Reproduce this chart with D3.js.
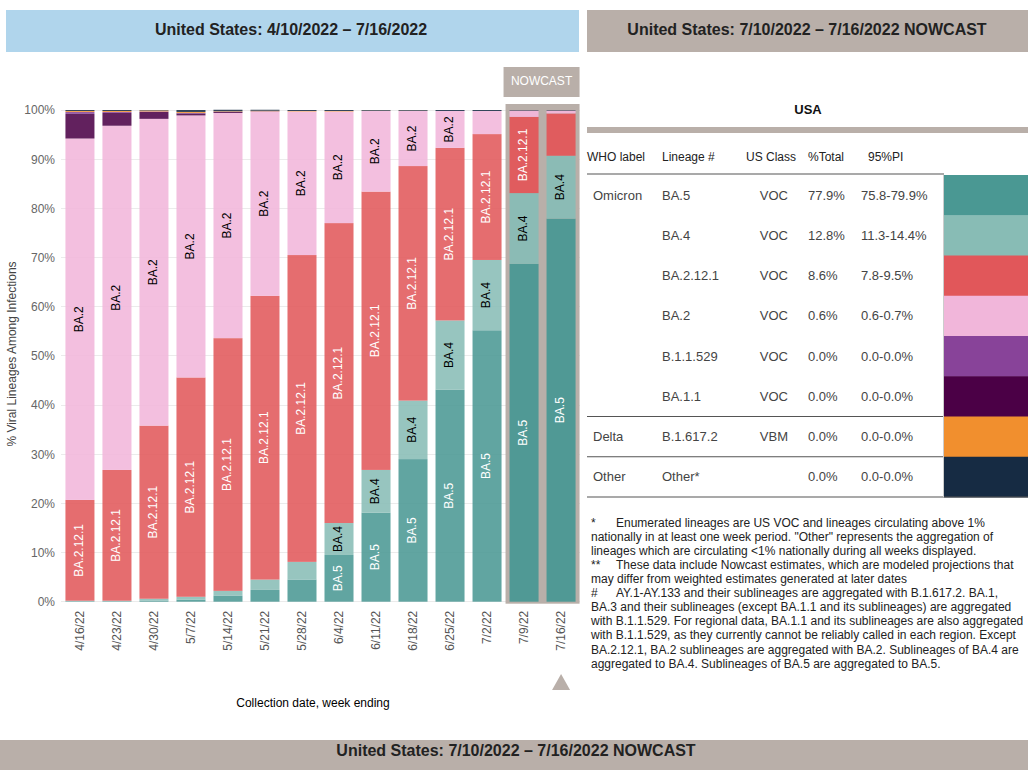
<!DOCTYPE html>
<html>
<head>
<meta charset="utf-8">
<script src="https://cdn.jsdelivr.net/npm/d3@7"></script>
<style>
  body { margin: 0; background: #fff; }
  svg { font-family: "Liberation Sans", Arial, sans-serif; display: block; }
</style>
</head>
<body>
<div id="chart"></div>
<script>
// weeks shown on the x axis
const dates = ['4/16/22', '4/23/22', '4/30/22', '5/7/22', '5/14/22', '5/21/22', '5/28/22',
  '6/4/22', '6/11/22', '6/18/22', '6/25/22', '7/2/22', '7/9/22', '7/16/22'];
const nowcastDates = ['7/9/22', '7/16/22'];

// % share per lineage, one value per week
const ba5    = [0.1, 0.1, 0.2, 0.4, 1.2, 2.4, 4.5, 9.5, 18.1, 29.0, 43.1, 55.2, 68.7, 77.9];
const ba4    = [0.1, 0.1, 0.4, 0.6, 1.0, 2.1, 3.6, 6.5, 8.7, 11.9, 14.1, 14.3, 14.4, 12.8];
const ba2121 = [20.5, 26.6, 35.2, 44.6, 51.4, 57.7, 62.4, 61.0, 56.6, 47.7, 35.1, 25.6, 15.5, 8.6];
const ba2    = [73.5, 70.0, 62.4, 53.3, 45.8, 37.5, 29.2, 22.7, 16.4, 11.2, 7.5, 4.7, 1.3, 0.6];
const ba11   = [5.0, 2.6, 1.4, 0.4, 0.2, 0.05, 0, 0, 0, 0, 0, 0, 0, 0];
const b11529 = [0.4, 0.2, 0.1, 0.1, 0.05, 0, 0, 0, 0, 0, 0, 0, 0, 0];
const delta  = [0.2, 0.2, 0.2, 0.2, 0.1, 0.1, 0.1, 0.1, 0.05, 0.05, 0, 0, 0, 0];
const other  = [0.2, 0.2, 0.1, 0.4, 0.3, 0.2, 0.2, 0.2, 0.15, 0.15, 0.2, 0.2, 0.1, 0.1];

const yTicks = [0, 10, 20, 30, 40, 50, 60, 70, 80, 90, 100];

// nowcast table
const whoLabel = ['Omicron', '', '', '', '', '', 'Delta', 'Other'];
const lineage  = ['BA.5', 'BA.4', 'BA.2.12.1', 'BA.2', 'B.1.1.529', 'BA.1.1', 'B.1.617.2', 'Other*'];
const usClass  = ['VOC', 'VOC', 'VOC', 'VOC', 'VOC', 'VOC', 'VBM', ''];
const pctTotal = ['77.9%', '12.8%', '8.6%', '0.6%', '0.0%', '0.0%', '0.0%', '0.0%'];
const pi95     = ['75.8-79.9%', '11.3-14.4%', '7.8-9.5%', '0.6-0.7%', '0.0-0.0%', '0.0-0.0%', '0.0-0.0%', '0.0-0.0%'];

const footnotes = [
  ['*', 'Enumerated lineages are US VOC and lineages circulating above 1%'],
  ['', 'nationally in at least one week period. "Other" represents the aggregation of'],
  ['', 'lineages which are circulating <1% nationally during all weeks displayed.'],
  ['**', 'These data include Nowcast estimates, which are modeled projections that'],
  ['', 'may differ from weighted estimates generated at later dates'],
  ['#', 'AY.1-AY.133 and their sublineages are aggregated with B.1.617.2. BA.1,'],
  ['', 'BA.3 and their sublineages (except BA.1.1 and its sublineages) are aggregated'],
  ['', 'with B.1.1.529. For regional data, BA.1.1 and its sublineages are also aggregated'],
  ['', 'with B.1.1.529, as they currently cannot be reliably called in each region. Except'],
  ['', 'BA.2.12.1, BA.2 sublineages are aggregated with BA.2. Sublineages of BA.4 are'],
  ['', 'aggregated to BA.4. Sublineages of BA.5 are aggregated to BA.5.']
];

const keys = ['BA.5', 'BA.4', 'BA.2.12.1', 'BA.2', 'BA.1.1', 'B.1.1.529', 'B.1.617.2', 'Other*'];
const series = [ba5, ba4, ba2121, ba2, ba11, b11529, delta, other];

const colors = {
  'BA.5': '#4a9893', 'BA.4': '#88bcb5', 'BA.2.12.1': '#e1575a', 'BA.2': '#f1b6da',
  'B.1.1.529': '#884399', 'BA.1.1': '#4b0046', 'B.1.617.2': '#f18f2e', 'Other*': '#162b43'
};
const labelColor = { 'BA.5': '#fff', 'BA.4': '#000', 'BA.2.12.1': '#fff', 'BA.2': '#000' };

const grey = '#b9afa9';
const W = 1028, H = 770;

const rows = dates.map((d, i) => {
  const r = { date: d };
  keys.forEach((k, j) => { r[k] = series[j][i]; });
  return r;
});

const svg = d3.select('#chart').append('svg')
  .attr('width', W)
  .attr('height', H);

// header bands
svg.append('rect').attr('x', 6).attr('y', 10).attr('width', 573).attr('height', 42).attr('fill', '#b0d5ec');
svg.append('rect').attr('x', 587).attr('y', 10).attr('width', 441).attr('height', 42).attr('fill', grey);
svg.append('rect').attr('x', 0).attr('y', 740).attr('width', W).attr('height', 30).attr('fill', grey);

const headStyle = t => t.attr('text-anchor', 'middle').attr('dominant-baseline', 'middle')
  .attr('font-weight', 'bold').attr('font-size', 16).attr('fill', '#222');
svg.append('text').attr('x', 291).attr('y', 31).text('United States: 4/10/2022 – 7/16/2022').call(headStyle);
svg.append('text').attr('x', 807).attr('y', 31).text('United States: 7/10/2022 – 7/16/2022 NOWCAST').call(headStyle);
svg.append('text').attr('x', 516).attr('y', 752).text('United States: 7/10/2022 – 7/16/2022 NOWCAST').call(headStyle);

// ---- stacked bars ----
const xScale = d3.scaleBand()
  .domain(dates)
  .range([61, 580])
  .paddingInner(0.216)
  .paddingOuter(0.12);

const yScale = d3.scaleLinear()
  .domain([0, 100])
  .range([601.7, 110]);

const plot = svg.append('g');

plot.selectAll('.grid-line')
  .data(yTicks)
  .enter().append('line')
  .attr('class', 'grid-line')
  .attr('x1', 61).attr('x2', 580)
  .attr('y1', d => yScale(d)).attr('y2', d => yScale(d))
  .attr('stroke', '#ebebeb')
  .attr('shape-rendering', 'crispEdges');

// nowcast frame behind last two bars
const nx0 = xScale(nowcastDates[0]) - 4;
const nx1 = xScale(nowcastDates[nowcastDates.length - 1]) + xScale.bandwidth() + 4;
plot.append('rect')
  .attr('x', nx0).attr('y', yScale(100) - 6)
  .attr('width', nx1 - nx0).attr('height', yScale(0) - yScale(100) + 8)
  .attr('fill', grey);
svg.append('rect')
  .attr('x', nx0 - 2).attr('y', 67).attr('width', nx1 - nx0 + 2).attr('height', 30)
  .attr('fill', grey);
svg.append('text')
  .attr('x', (nx0 + nx1) / 2 - 1).attr('y', 82)
  .attr('text-anchor', 'middle').attr('dominant-baseline', 'middle')
  .attr('font-size', 12).attr('fill', '#fff')
  .text('NOWCAST');

const stacked = d3.stack().keys(keys)(rows);

const layers = plot.selectAll('.layer')
  .data(stacked)
  .enter().append('g')
  .attr('class', 'layer')
  .attr('fill', d => colors[d.key]);

layers.selectAll('rect')
  .data(d => d)
  .enter().append('rect')
  .attr('x', d => xScale(d.data.date))
  .attr('y', d => yScale(d[1]))
  .attr('width', xScale.bandwidth())
  .attr('height', d => Math.max(0, yScale(d[0]) - yScale(d[1])))
  .attr('fill-opacity', d => nowcastDates.includes(d.data.date) ? 0.95 : 0.87);

// in-bar labels, kept only where the name fits in the segment
const labels = [];
stacked.forEach(s => {
  if (!labelColor[s.key]) return;
  s.forEach(d => labels.push({ key: s.key, date: d.data.date, lo: d[0], hi: d[1] }));
});

plot.selectAll('.bar-label')
  .data(labels)
  .enter().append('text')
  .attr('class', 'bar-label')
  .attr('transform', d => `translate(${xScale(d.date) + xScale.bandwidth() / 2},${yScale((d.lo + d.hi) / 2)}) rotate(-90)`)
  .attr('text-anchor', 'middle')
  .attr('dominant-baseline', 'middle')
  .attr('font-size', 12)
  .attr('fill', d => labelColor[d.key])
  .text(d => d.key)
  .each(function(d) {
    const room = yScale(d.lo) - yScale(d.hi);
    if (this.getComputedTextLength() + 4 > room) d3.select(this).remove();
  });

// axes
const yAxis = svg.append('g')
  .attr('transform', 'translate(58,0)')
  .call(d3.axisLeft(yScale).tickValues(yTicks).tickFormat(d => d + '%').tickSize(0));
yAxis.select('.domain').remove();
yAxis.selectAll('text').attr('font-size', 12).attr('fill', '#666').attr('font-family', null);

const xAxis = svg.append('g')
  .attr('transform', `translate(0,${yScale(0)})`)
  .call(d3.axisBottom(xScale).tickSize(0));
xAxis.select('.domain').remove();
xAxis.selectAll('text')
  .attr('font-size', 12).attr('fill', '#555').attr('font-family', null)
  .attr('transform', 'rotate(-90)')
  .attr('text-anchor', 'end')
  .attr('dy', '0.35em')
  .attr('x', -9)
  .attr('y', 0);

svg.append('text')
  .attr('transform', 'translate(16,354) rotate(-90)')
  .attr('text-anchor', 'middle')
  .attr('font-size', 12).attr('fill', '#444')
  .text('% Viral Lineages Among Infections');

svg.append('text')
  .attr('x', 313).attr('y', 707)
  .attr('text-anchor', 'middle')
  .attr('font-size', 12).attr('fill', '#000')
  .text('Collection date, week ending');

const tx = xScale(dates[dates.length - 1]) + xScale.bandwidth() / 2;
svg.append('path')
  .attr('d', `M${tx - 9},690 L${tx},674 L${tx + 9},690 Z`)
  .attr('fill', grey);

// ---- nowcast table ----
const table = svg.append('g').attr('font-size', 13);

table.append('text')
  .attr('x', 808).attr('y', 111)
  .attr('text-anchor', 'middle').attr('dominant-baseline', 'middle')
  .attr('font-weight', 'bold').attr('fill', '#111')
  .text('USA');
table.append('rect').attr('x', 587).attr('y', 127).attr('width', 441).attr('height', 6).attr('fill', grey);

const headers = [['WHO label', 587, 'start'], ['Lineage #', 662, 'start'], ['US Class', 796, 'end'],
  ['%Total', 808, 'start'], ['95%PI', 868, 'start']];
table.selectAll('.th')
  .data(headers)
  .enter().append('text')
  .attr('class', 'th')
  .attr('x', d => d[1]).attr('y', 158)
  .attr('text-anchor', d => d[2])
  .attr('dominant-baseline', 'middle')
  .attr('font-size', 12)
  .attr('fill', '#222')
  .text(d => d[0]);

const rowScale = d3.scaleBand().domain(lineage).range([175, 497]);
const rowMid = i => rowScale(lineage[i]) + rowScale.bandwidth() / 2;

table.selectAll('.swatch')
  .data(lineage)
  .enter().append('rect')
  .attr('class', 'swatch')
  .attr('x', 944).attr('y', d => rowScale(d))
  .attr('width', W - 944).attr('height', rowScale.bandwidth() + 0.5)
  .attr('fill', d => colors[d]);

const cols = [[whoLabel, 593, 'start'], [lineage, 662, 'start'], [usClass, 788, 'end'],
  [pctTotal, 808, 'start'], [pi95, 861, 'start']];
cols.forEach(c => {
  table.selectAll(null)
    .data(c[0])
    .enter().append('text')
    .attr('x', c[1]).attr('y', (d, i) => rowMid(i) + 1)
    .attr('text-anchor', c[2])
    .attr('dominant-baseline', 'middle')
    .attr('fill', '#444')
    .text(d => d);
});

const rules = [[174, 944], [rowScale('BA.1.1') + rowScale.bandwidth(), 944],
  [rowScale('B.1.617.2') + rowScale.bandwidth(), 944], [497, W]];
table.selectAll('.rule')
  .data(rules)
  .enter().append('line')
  .attr('x1', 587).attr('x2', d => d[1])
  .attr('y1', d => d[0]).attr('y2', d => d[0])
  .attr('stroke', '#555').attr('stroke-width', 1.2);
table.append('line')
  .attr('x1', 943.5).attr('x2', 943.5).attr('y1', 175).attr('y2', 497)
  .attr('stroke', '#ccc');

// footnotes
const notes = svg.append('g').attr('font-size', 12).attr('fill', '#222');
footnotes.forEach((f, i) => {
  const y = 523.5 + i * 14.1;
  if (f[0]) notes.append('text').attr('x', 591).attr('y', y).attr('dominant-baseline', 'middle').text(f[0]);
  notes.append('text')
    .attr('x', f[0] ? 616 : 591).attr('y', y)
    .attr('dominant-baseline', 'middle')
    .text(f[1]);
});
</script>
</body>
</html>
